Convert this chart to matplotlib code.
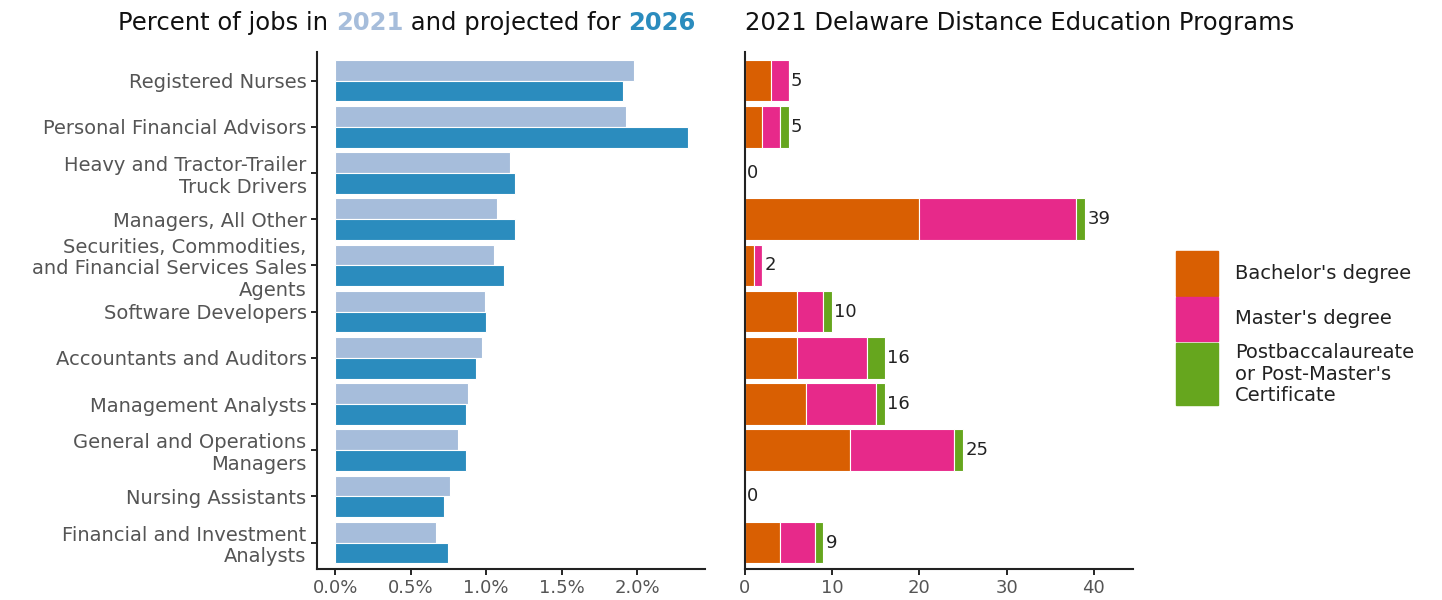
import matplotlib
matplotlib.use("Agg")
import matplotlib.pyplot as plt
from matplotlib.patches import Rectangle
from matplotlib.ticker import FuncFormatter
import numpy as np

plt.rcParams["font.family"] = ["DejaVu Sans"]

OCCUPATIONS = ["Registered Nurses", "Personal Financial Advisors",
               "Heavy and Tractor-Trailer\nTruck Drivers",
               "Managers, All Other",
               "Securities, Commodities,\nand Financial Services Sales\nAgents",
               "Software Developers", "Accountants and Auditors",
               "Management Analysts", "General and Operations\nManagers",
               "Nursing Assistants", "Financial and Investment\nAnalysts"]
PCT_2021 = [1.98, 1.93, 1.16, 1.07, 1.05, 0.99, 0.975, 0.88, 0.815, 0.76, 0.67]
PCT_2026 = [1.91, 2.34, 1.19, 1.19, 1.12, 1.00, 0.935, 0.87, 0.87, 0.72, 0.75]

DEGREES = ["Bachelor's degree", "Master's degree",
           "Postbaccalaureate\nor Post-Master's\nCertificate"]
BACHELOR = [3, 2, 0, 20, 1, 6, 6, 7, 12, 0, 4]
MASTER = [2, 2, 0, 18, 1, 3, 8, 8, 12, 0, 4]
POSTBAC = [0, 1, 0, 1, 0, 1, 2, 1, 1, 0, 1]

C2021, C2026 = "#a6bddb", "#2b8cbe"
DEG_COLORS = ["#d95f02", "#e7298a", "#66a61e"]
TICK_GRAY = "#555555"

W, H = 1442, 600
fig = plt.figure(figsize=(W / 100, H / 100), dpi=100)
axL = fig.add_axes([317 / W, 31 / H, 388 / W, 517 / H])
axR = fig.add_axes([745 / W, 31 / H, 388 / W, 517 / H], sharey=axL)

y = np.arange(len(OCCUPATIONS))
bh = 0.45
axL.barh(y - bh / 2, PCT_2021, height=bh, color=C2021, edgecolor="white", lw=0.8)
axL.barh(y + bh / 2, PCT_2026, height=bh, color=C2026, edgecolor="white", lw=0.8)
axL.set_xlim(-0.12, 2.45)
axL.set_xticks([0, 0.5, 1.0, 1.5, 2.0])
axL.xaxis.set_major_formatter(FuncFormatter(lambda v, _: f"{v:.1f}%"))
axL.set_yticks(y)
axL.set_yticklabels(OCCUPATIONS, linespacing=1.18)
axL.set_ylim(10.57, -0.62)

left = np.zeros(len(OCCUPATIONS))
for vals, col in zip([BACHELOR, MASTER, POSTBAC], DEG_COLORS):
    axR.barh(y, vals, left=left, height=0.9, color=col, edgecolor="white", lw=0.8)
    left = left + np.array(vals)
for yi, tot in zip(y, left):
    axR.text(tot + 0.25, yi, f"{int(tot)}", va="center", ha="left",
             fontsize=13, color="#222222")
axR.set_xlim(0, 44.5)
axR.set_xticks([0, 10, 20, 30, 40])
axR.tick_params(axis="y", left=False, labelleft=False)

for ax in (axL, axR):
    for s in ("top", "right"):
        ax.spines[s].set_visible(False)
    for s in ("left", "bottom"):
        ax.spines[s].set_linewidth(1.5)
        ax.spines[s].set_color("#222222")
    ax.tick_params(axis="x", labelsize=13, labelcolor=TICK_GRAY, width=1.2, length=4)
axL.tick_params(axis="y", labelsize=14, labelcolor=TICK_GRAY, width=1.2, length=4)

# titles
renderer = fig.canvas.get_renderer()
x = 118
for txt, col, wt in [("Percent of jobs in ", "#111111", "normal"),
                     ("2021", C2021, "bold"),
                     (" and projected for ", "#111111", "normal"),
                     ("2026", C2026, "bold")]:
    t = fig.text(x / W, 1 - 23 / H, txt, color=col, fontweight=wt,
                 fontsize=17.5, va="center", ha="left")
    x += t.get_window_extent(renderer).width
fig.text(745 / W, 1 - 23 / H, "2021 Delaware Distance Education Programs",
         color="#111111", fontsize=17.5, va="center", ha="left")

# legend
boxes = [(251, 296), (297, 341), (343, 405)]
for (top, bot), col, lab in zip(boxes, DEG_COLORS, DEGREES):
    fig.add_artist(Rectangle((1176 / W, 1 - bot / H), 42 / W, (bot - top) / H,
                             transform=fig.transFigure, color=col))
    fig.text(1235 / W, 1 - (top + bot) / 2 / H, lab, fontsize=14,
             color="#222222", va="center", ha="left", linespacing=1.15)

fig.savefig("out.png", dpi=100)
